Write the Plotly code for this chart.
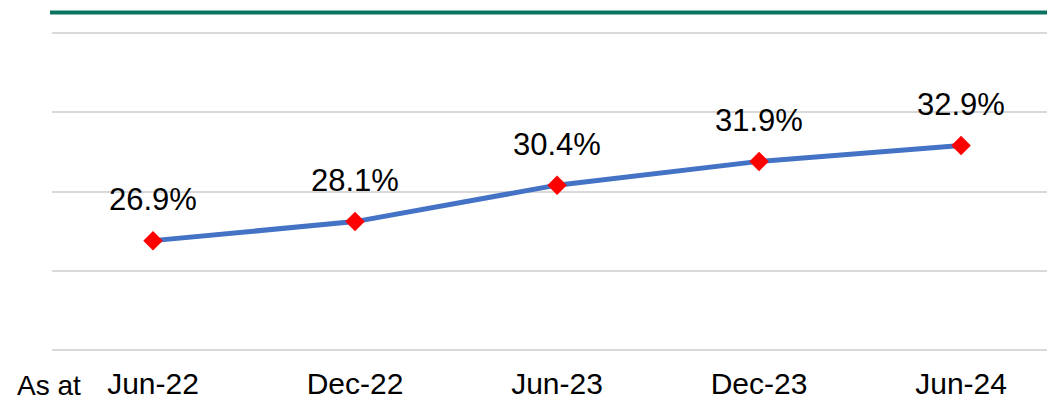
import plotly.graph_objects as go

categories = ["Jun-22", "Dec-22", "Jun-23", "Dec-23", "Jun-24"]
values = [26.9, 28.1, 30.4, 31.9, 32.9]
labels = ["26.9%", "28.1%", "30.4%", "31.9%", "32.9%"]
y_ticks = [20, 25, 30, 35, 40]

FONT = "Liberation Sans, Arial, sans-serif"

fig = go.Figure()
fig.add_trace(go.Scatter(
    x=categories, y=values, mode="lines+markers",
    line=dict(color="#4472C4", width=5),
    marker=dict(symbol="diamond", color="#FF0000", size=15),
    hoverinfo="skip", showlegend=False,
))

for c, v, t in zip(categories, values, labels):
    fig.add_annotation(x=c, y=v, text=t, showarrow=False, yshift=41,
                       font=dict(family=FONT, size=31, color="#000000"))

fig.add_annotation(xref="paper", yref="paper", x=-0.037, y=-0.101,
                   xanchor="left", yanchor="middle",
                   text="As at", showarrow=False,
                   font=dict(family=FONT, size=28, color="#000000"))

fig.add_shape(type="line", xref="paper", yref="paper", x0=-0.002, x1=1.0,
              y0=1.054, y1=1.054, line=dict(color="#0A7460", width=4))

fig.update_layout(
    width=1047, height=393,
    margin=dict(l=44, r=0, t=22, b=48, autoexpand=False),
    paper_bgcolor="white", plot_bgcolor="white",
    font=dict(family=FONT, size=31, color="#000000"),
    xaxis=dict(type="category", range=[-0.5, 4.465], showgrid=False, zeroline=False,
               showline=False, ticks="", ticklabelstandoff=10,
               tickfont=dict(size=30, color="#000000")),
    yaxis=dict(range=[19.81, 40.19], tickvals=y_ticks, showticklabels=False,
               showgrid=True, gridcolor="#D9D9D9", gridwidth=1.5,
               zeroline=False, showline=False, ticks=""),
)

fig.write_html("out.html")
